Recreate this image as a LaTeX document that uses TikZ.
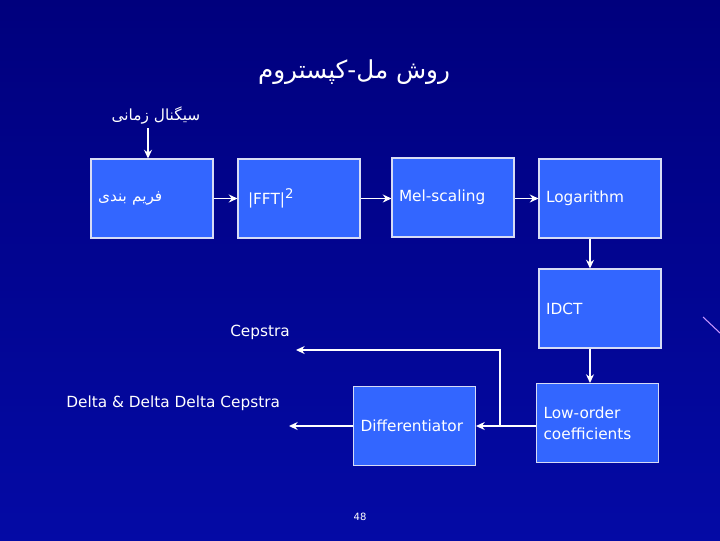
\documentclass[tikz,border=0pt]{standalone}
\usepackage{fontspec}
\setmainfont{DejaVu Sans}
\newfontfamily\arabicfont[Script=Arabic]{DejaVu Sans}
\TeXXeTstate=1
\usepackage{xcolor}
\usetikzlibrary{arrows.meta, positioning}
\definecolor{bgtop}{RGB}{0,0,125}
\definecolor{bgmid}{RGB}{22,42,200}
\definecolor{bgbot}{RGB}{4,10,165}
\definecolor{boxfill}{RGB}{51,102,255}
\definecolor{boxline}{RGB}{215,220,245}
\definecolor{streak}{RGB}{200,150,255}

\begin{document}
\begin{tikzpicture}[
  x=0.75pt, y=-0.75pt,
  >={Stealth[length=6.5pt, width=6pt]},
  block/.style={rectangle, draw=boxline, line width=0.8pt, fill=boxfill, minimum width=91.5pt, minimum height=59.25pt, text width=81pt, inner xsep=5.25pt, align=left, text=white, font=\fontsize{11.5}{16}\selectfont},
  note/.style={text=white, inner sep=0pt, font=\fontsize{11.5}{14}\selectfont},
  flow/.style={->, draw=white, line width=1.3pt}
]
  \useasboundingbox (0,0) rectangle (720,540);
  \shade[top color=bgtop, middle color=bgmid, bottom color=bgbot] (0,0) rectangle (720,540);
  \draw[streak, line width=0.8pt] (703,317) -- (720,333);

  \node[note, font=\arabicfont\fontsize{18.5}{22}\selectfont] (title) at (354,72) {\beginR روش مل-کپستروم\endR};
  \node[note, font=\arabicfont\fontsize{11.5}{14}\selectfont] (signal) at (156,115) {\beginR سیگنال زمانی\endR};

  \node[block] (frame) at (152,198.5) {\arabicfont\beginR فریم بندی\endR};
  \node[block, inner xsep=7.5pt, text width=76.5pt] (fft) at (299,198.5) {|FFT|\raisebox{0.7ex}{\fontsize{10}{12}\selectfont 2}};
  \node[block] (mel) at (453,197.5) {Mel-scaling};
  \node[block] (log) at (600,198.5) {Logarithm};
  \node[block] (idct) at (600,308.5) {IDCT};
  \node[block] (low) at (597.5,423) {Low-order\\coefficients};
  \node[block] (diff) at (414.5,426) {Differentiator};

  \node[note, anchor=west] (cep) at (230,332) {Cepstra};
  \node[note, anchor=west] (delta) at (66,403) {Delta \& Delta Delta Cepstra};
  \node[note, font=\fontsize{7.5}{9}\selectfont] (page) at (360,517) {48};

  \coordinate (sigtop) at (148,128);
  \coordinate (split) at (500,426);
  \coordinate (cepend) at (296,350);
  \coordinate (deltaend) at (289,426);

  \draw[flow] (sigtop) -- (sigtop |- frame.north);
  \draw[flow] (frame) -- (fft);
  \draw[flow] (fft) -- (fft -| mel.west);
  \draw[flow] (mel.east |- log) -- (log);
  \draw[flow] ([xshift=-7.5pt]log.south) -- ([xshift=-7.5pt]idct.north);
  \draw[flow] ([xshift=-7.5pt]idct.south) -- ([xshift=-7.5pt]idct.south |- low.north);
  \draw[flow] (low.west |- diff) -- (diff.east);
  \draw[flow] (split) |- (cepend);
  \draw[flow] (diff.west) -- (deltaend);
\end{tikzpicture}
\end{document}
